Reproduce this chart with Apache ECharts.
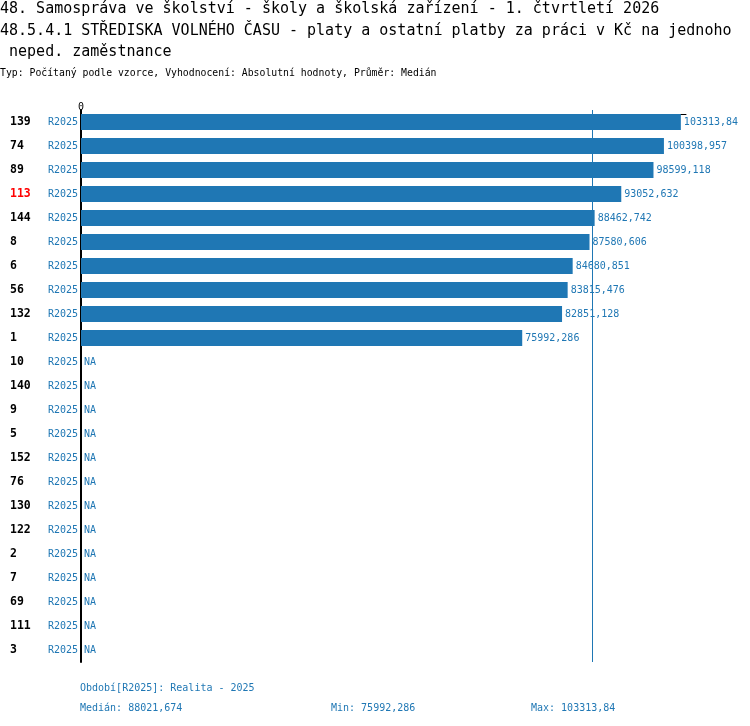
<!DOCTYPE html>
<html>
<head>
  <meta charset="utf-8">
  <script src="https://cdn.jsdelivr.net/npm/echarts@6/dist/echarts.min.js"></script>
  <style>html,body{margin:0;padding:0;background:#fff;}</style>
</head>
<body>
<div id="main" style="width:750px;height:726px;"></div>
<script>
// data
var units = ['139', '74', '89', '113', '144', '8', '6', '56', '132', '1', '10', '140', '9', '5', '152', '76', '130', '122', '2', '7', '69', '111', '3'];
var period = 'R2025';
var values = [103313.84, 100398.957, 98599.118, 93052.632, 88462.742, 87580.606, 84680.851, 83815.476, 82851.128, 75992.286,
  null, null, null, null, null, null, null, null, null, null, null, null, null];
var highlighted = '113';
var axisMax = 104200;

var titleLines = [
  '48. Samospráva ve školství - školy a školská zařízení - 1. čtvrtletí 2026',
  '48.5.4.1 STŘEDISKA VOLNÉHO ČASU - platy a ostatní platby za práci v Kč na jednoho',
  ' neped. zaměstnance'
];
var subtitle = 'Typ: Počítaný podle vzorce, Vyhodnocení: Absolutní hodnoty, Průměr: Medián';
var periodNote = 'Období[R2025]: Realita - 2025';

var BLUE = '#1f77b4';
var MONO = '"DejaVu Sans Mono", "Liberation Mono", monospace';

function fmt(v) {
  var s = v.toFixed(3).replace(/0+$/, '').replace(/\.$/, '');
  return s.replace('.', ',');
}

var known = values.filter(function (v) { return v != null; }).slice().sort(function (a, b) { return a - b; });
var mid = known.length / 2;
var median = known.length % 2 ? known[Math.floor(mid)] : (known[mid - 1] + known[mid]) / 2;
var minV = known[0], maxV = known[known.length - 1];

var chart = echarts.init(document.getElementById('main'));

function txt(text, x, y, size, color, weight) {
  return {
    type: 'text', x: x, y: y,
    style: { text: text, fill: color, font: (weight || 'normal') + ' ' + size + 'px ' + MONO, textVerticalAlign: 'middle' }
  };
}

chart.setOption({
  animation: false,
  backgroundColor: '#fff',
  grid: { left: 81, top: 110, width: 605, height: 552, containLabel: false },
  xAxis: {
    type: 'value', position: 'top', min: 0, max: axisMax, offset: -4,
    axisLine: { show: true, lineStyle: { color: '#000', width: 1 } },
    axisTick: { show: true, length: 4, customValues: [0], lineStyle: { color: '#000' } },
    axisLabel: { customValues: [0], fontSize: 10, color: '#000', fontFamily: MONO, margin: 2 },
    splitLine: { show: false }
  },
  yAxis: {
    type: 'category', inverse: true, data: units,
    axisLine: { show: true, lineStyle: { color: '#000', width: 2 } },
    axisTick: { show: false },
    axisLabel: {
      margin: 3,
      formatter: function (v) {
        return (v === highlighted ? '{h|' : '{n|') + v + '}{r|' + period + '}';
      },
      rich: {
        n: { width: 38, align: 'left', fontSize: 11.5, fontWeight: 'bold', color: '#000', fontFamily: MONO },
        h: { width: 38, align: 'left', fontSize: 11.5, fontWeight: 'bold', color: '#ff0000', fontFamily: MONO },
        r: { width: 30, align: 'right', fontSize: 10, color: BLUE, fontFamily: MONO }
      }
    }
  },
  series: [{
    type: 'bar',
    barWidth: 16,
    data: values.map(function (v) { return v == null ? 0 : v; }),
    itemStyle: { color: BLUE },
    label: {
      show: true, position: 'right', distance: 3,
      fontSize: 10, color: BLUE, fontFamily: MONO,
      formatter: function (p) {
        var v = values[p.dataIndex];
        return v == null ? 'NA' : fmt(v);
      }
    },
    markLine: {
      silent: true, symbol: 'none',
      label: { show: false },
      lineStyle: { color: BLUE, type: 'solid', width: 1 },
      data: [{ xAxis: median }]
    }
  }],
  graphic: [
    txt(titleLines[0], 0, 9, 15, '#000'),
    txt(titleLines[1], 0, 31, 15, '#000'),
    txt(titleLines[2], 0, 52, 15, '#000'),
    txt(subtitle, 0, 73, 9.8, '#000'),
    txt(periodNote, 80, 688, 10, BLUE),
    txt('Medián: ' + fmt(median), 80, 708, 10, BLUE),
    txt('Min: ' + fmt(minV), 331, 708, 10, BLUE),
    txt('Max: ' + fmt(maxV), 531, 708, 10, BLUE)
  ]
});
</script>
</body>
</html>
